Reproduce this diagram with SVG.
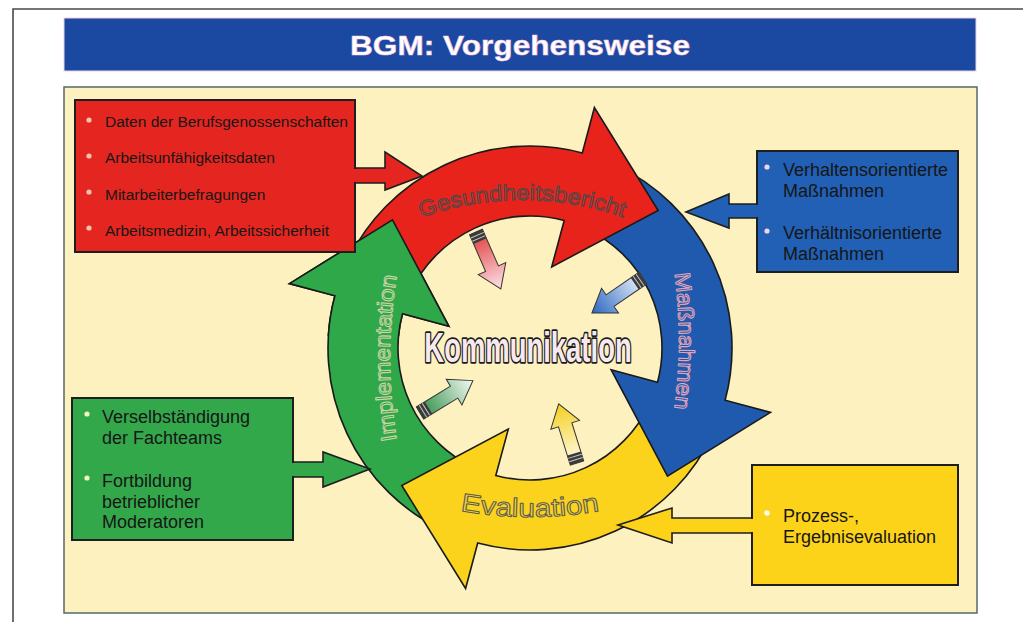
<svg xmlns="http://www.w3.org/2000/svg" xmlns:xlink="http://www.w3.org/1999/xlink" width="1023" height="622" viewBox="0 0 1023 622">
<style>
.box{stroke:#1e1e1e;stroke-width:2}
.conn{stroke:#1e1e1e;stroke-width:1.6;stroke-linejoin:miter}
.t{font-family:"Liberation Sans",Arial,sans-serif;fill:#161616}
.lbl{font-family:"Liberation Sans",Arial,sans-serif;stroke-width:1;stroke-linejoin:round}
</style>
<defs>
<path id="ring" d="M346.9,262.6 A202,202 0 0 1 582.3,152.9 L594.4,107.5 L658.2,210.5 L551.7,266.9 L564.2,220.5 A132,132 0 0 0 410.4,292.2 Z" stroke="#1a1a1a" stroke-width="1.6" stroke-linejoin="miter"/>
<path id="sa" d="M0,-7 L40,-7 L40,-15 L62,0 L40,15 L40,7 L0,7 Z" stroke="#333" stroke-width="1"/>
<g id="stripes"><rect x="0" y="-7" width="10" height="14" fill="#3a3a3a"/><line x1="3.5" y1="-7" x2="3.5" y2="7" stroke="#c8c8c8" stroke-width="1"/><line x1="7" y1="-7" x2="7" y2="7" stroke="#c8c8c8" stroke-width="1"/></g>
<linearGradient id="gr" x1="0" y1="0" x2="1" y2="0"><stop offset="0" stop-color="#e23a3a"/><stop offset="1" stop-color="#fbe3e8"/></linearGradient>
<linearGradient id="gb" x1="0" y1="0" x2="1" y2="0"><stop offset="0" stop-color="#f0f5fc"/><stop offset="1" stop-color="#2a66c0"/></linearGradient>
<linearGradient id="gg" x1="0" y1="0" x2="1" y2="0"><stop offset="0" stop-color="#2a8c44"/><stop offset="1" stop-color="#f4faf2"/></linearGradient>
<linearGradient id="gy" x1="0" y1="0" x2="1" y2="0"><stop offset="0" stop-color="#fffbe8"/><stop offset="1" stop-color="#f5cf1e"/></linearGradient>
<clipPath id="gclip"><rect x="268" y="196" width="195" height="140"/></clipPath>
<path id="pG" d="M372,240.2 A300,300 0 0 1 672,240.2"/>
<path id="pM" d="M648.8,170 A500,500 0 0 1 648.8,512"/>
<path id="pI" d="M420.2,529 A500,500 0 0 1 420.2,187"/>
<path id="pE" d="M393.2,492.9 A400,400 0 0 0 666.8,492.9"/>
</defs>

<rect width="1023" height="622" fill="#ffffff"/>
<path d="M13,622 L13,9 L1023,9" fill="none" stroke="#4a4a4a" stroke-width="1.6"/>

<g id="title">
<rect x="64" y="18" width="912" height="53" fill="#1b48a0" stroke="#f2cfe0" stroke-width="1"/>
<text x="520" y="55" text-anchor="middle" font-family="Liberation Sans, Arial, sans-serif" font-size="28" font-weight="bold" fill="#ffffff" stroke="#f3c6dc" stroke-width="0.6" textLength="340" lengthAdjust="spacingAndGlyphs">BGM: Vorgehensweise</text>
</g>

<rect id="panel" x="64" y="87" width="913" height="526" fill="#fcf1bf" stroke="#56686a" stroke-width="1.5"/>

<g id="cycle">
<g id="ring-green"><use xlink:href="#ring" href="#ring" fill="#2fa84a" transform="rotate(270 530 348)"/></g>
<g id="ring-yellow"><use xlink:href="#ring" href="#ring" fill="#fbd21c" transform="rotate(180 530 348)"/></g>
<g id="ring-blue"><use xlink:href="#ring" href="#ring" fill="#1f5aae" transform="rotate(90 530 348)"/></g>
<g id="ring-red"><use xlink:href="#ring" href="#ring" fill="#e8231c"/></g>
<g clip-path="url(#gclip)"><use xlink:href="#ring" href="#ring" fill="#2fa84a" transform="rotate(270 530 348)"/></g>
</g>

<g id="ring-labels">
<text class="lbl" font-size="22" fill="#e8231c" stroke="#4a4a4a"><textPath xlink:href="#pG" href="#pG" startOffset="50%" text-anchor="middle" textLength="206" lengthAdjust="spacingAndGlyphs">Gesundheitsbericht</textPath></text>
<text class="lbl" font-size="22" fill="#1f5aae" stroke="#e7a3b4"><textPath xlink:href="#pM" href="#pM" startOffset="50%" text-anchor="middle" textLength="136" lengthAdjust="spacingAndGlyphs">Maßnahmen</textPath></text>
<text class="lbl" font-size="22" fill="#2fa84a" stroke="#cfd3a6"><textPath xlink:href="#pI" href="#pI" startOffset="50%" text-anchor="middle" textLength="165" lengthAdjust="spacingAndGlyphs">Implementation</textPath></text>
<text class="lbl" font-size="26" fill="#f6d52a" stroke="#5a5a5a"><textPath xlink:href="#pE" href="#pE" startOffset="50%" text-anchor="middle" textLength="140" lengthAdjust="spacingAndGlyphs">Evaluation</textPath></text>
</g>

<g id="connectors">
<path class="conn" d="M353.5,168 L385,168 L385,152 L422,176 L385,190 L385,183 L353.5,183" fill="#e52620"/>
<path class="conn" d="M758.5,204 L729,204 L729,194 L686,212 L729,228 L729,218 L758.5,218" fill="#2160b5"/>
<path class="conn" d="M291.5,462 L323,462 L323,452 L370,469 L323,487 L323,477 L291.5,477" fill="#33a84b"/>
<path class="conn" d="M753.5,518 L672,518 L672,508 L618,525 L672,543 L672,533 L753.5,533" fill="#fdd31a"/>
</g>

<g id="box-red">
<rect class="box" x="75" y="100" width="280" height="152" fill="#e52620"/>
<rect x="353" y="169" width="4" height="13" fill="#e52620"/>
<g fill="#f9c4ae"><circle cx="89" cy="120" r="2.6"/><circle cx="89" cy="156" r="2.6"/><circle cx="89" cy="192" r="2.6"/><circle cx="89" cy="228" r="2.6"/></g>
<text class="t" font-size="15.5"><tspan x="105" y="127">Daten der Berufsgenossenschaften</tspan><tspan x="105" y="163">Arbeitsunfähigkeitsdaten</tspan><tspan x="105" y="200">Mitarbeiterbefragungen</tspan><tspan x="105" y="236">Arbeitsmedizin, Arbeitssicherheit</tspan></text>
</g>

<g id="box-blue">
<rect class="box" x="757" y="151" width="201" height="121" fill="#2160b5"/>
<rect x="755" y="205" width="4" height="12" fill="#2160b5"/>
<g fill="#f3d2ef"><circle cx="767" cy="167" r="2.6"/><circle cx="767" cy="231" r="2.6"/></g>
<text class="t" font-size="18"><tspan x="783" y="176">Verhaltensorientierte</tspan><tspan x="783" y="197">Maßnahmen</tspan><tspan x="783" y="239">Verhältnisorientierte</tspan><tspan x="783" y="260">Maßnahmen</tspan></text>
</g>

<g id="box-green">
<rect class="box" x="72" y="398" width="221" height="142" fill="#33a84b"/>
<rect x="291" y="463" width="4" height="13" fill="#33a84b"/>
<g fill="#f1f6c4"><circle cx="87" cy="414" r="2.6"/><circle cx="87" cy="478" r="2.6"/></g>
<text class="t" font-size="18"><tspan x="102" y="423">Verselbständigung</tspan><tspan x="102" y="444">der Fachteams</tspan><tspan x="102" y="487">Fortbildung</tspan><tspan x="102" y="508">betrieblicher</tspan><tspan x="102" y="528">Moderatoren</tspan></text>
</g>

<g id="box-yellow">
<rect class="box" x="752" y="465" width="206" height="120" fill="#fdd31a"/>
<rect x="750" y="519" width="4" height="13" fill="#fdd31a"/>
<circle cx="767" cy="513" r="2.8" fill="#fffbe6"/>
<text class="t" font-size="18"><tspan x="783" y="522">Prozess-,</tspan><tspan x="783" y="543">Ergebnisevaluation</tspan></text>
</g>

<g id="inner-arrows">
<g transform="translate(476,232) rotate(66.4)"><use xlink:href="#sa" href="#sa" fill="url(#gr)"/><use xlink:href="#stripes" href="#stripes"/></g>
<g transform="translate(643,278) rotate(145.5)"><use xlink:href="#sa" href="#sa" fill="url(#gb)"/><use xlink:href="#stripes" href="#stripes"/></g>
<g transform="translate(420,413) rotate(-31.5)"><use xlink:href="#sa" href="#sa" fill="url(#gg)"/><use xlink:href="#stripes" href="#stripes"/></g>
<g transform="translate(577,463) rotate(-107.2)"><use xlink:href="#sa" href="#sa" fill="url(#gy)"/><use xlink:href="#stripes" href="#stripes"/></g>
</g>

<g id="center">
<text transform="translate(528,362) scale(0.9,1.38)" x="0" y="0" text-anchor="middle" font-family="Liberation Sans, Arial, sans-serif" font-size="30.5" font-weight="bold" fill="#f7e9ef" stroke="#1a1a1a" stroke-width="2.5" stroke-linejoin="round" paint-order="stroke">Kommunikation</text>
</g>
</svg>
